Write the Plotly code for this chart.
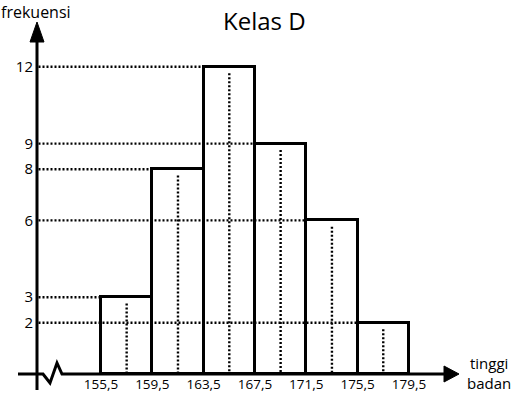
import plotly.graph_objects as go

# ---- data ----
edges = [155.5, 159.5, 163.5, 167.5, 171.5, 175.5, 179.5]
freq = [3, 8, 12, 9, 6, 2]
title_text = "Kelas D"
y_label = "frekuensi"
x_label = "tinggi<br>badan"

W, H = 517, 397
ML, MR, MT, MB = 37, 57, 20, 23
PW, PH = W - ML - MR, H - MT - MB
px_per_x = 12.83
px_per_y = 25.6
x0 = edges[0] - (101 - ML) / px_per_x
x1 = x0 + PW / px_per_x
y1 = PH / px_per_y

def fx(px):
    return (px - ML) / PW

def fy(py):
    return 1 - (py - MT) / PH

FONT = "Open Sans"
mids = [(edges[i] + edges[i + 1]) / 2 for i in range(len(freq))]
lefts = edges[:-1]

fig = go.Figure()
fig.add_trace(go.Bar(
    x=mids, y=freq, width=4,
    marker=dict(color="white", line=dict(color="black", width=3)),
    hoverinfo="skip",
))

# horizontal dotted guide lines from y axis to the left edge of each bar
xstart = x0 + 1.5 / px_per_x
for f, l in zip(freq, lefts):
    fig.add_trace(go.Scatter(x=[xstart, l], y=[f, f], mode="lines",
                             line=dict(color="black", width=2.4, dash="2px,2px"),
                             hoverinfo="skip"))
# vertical dotted midpoint lines
for f, m in zip(freq, mids):
    fig.add_trace(go.Scatter(x=[m, m], y=[f - 0.25, 0], mode="lines",
                             line=dict(color="black", width=2.4, dash="2px,2px"),
                             hoverinfo="skip"))

def fmt(v):
    return f"{v:.1f}".replace(".", ",")

shapes = []
# x axis line with zigzag
zig = [(18, 374), (43, 374), (50, 383), (57, 363), (62, 374), (448, 374)]
path = "M " + " L ".join(f"{fx(a)},{fy(b)}" for a, b in zig)
shapes.append(dict(type="path", xref="paper", yref="paper", path=path,
                   line=dict(color="black", width=3)))
# x arrow head
ah = [(444, 366), (459, 374), (444, 382)]
shapes.append(dict(type="path", xref="paper", yref="paper",
                   path="M " + " L ".join(f"{fx(a)},{fy(b)}" for a, b in ah) + " Z",
                   fillcolor="black", line=dict(color="black", width=1)))
# y axis line
shapes.append(dict(type="line", xref="paper", yref="paper",
                   x0=fx(37), x1=fx(37), y0=fy(390), y1=fy(40),
                   line=dict(color="black", width=3)))
ah = [(30, 42), (37, 22), (44, 42)]
shapes.append(dict(type="path", xref="paper", yref="paper",
                   path="M " + " L ".join(f"{fx(a)},{fy(b)}" for a, b in ah) + " Z",
                   fillcolor="black", line=dict(color="black", width=1)))

annotations = [
    dict(text=title_text, x=fx(264), y=fy(20), xref="paper", yref="paper",
         showarrow=False, font=dict(size=24, family=FONT, color="black"),
         xanchor="center", yanchor="middle"),
    dict(text=y_label, x=fx(36), y=fy(12), xref="paper", yref="paper",
         showarrow=False, font=dict(size=16, family=FONT, color="black"),
         xanchor="center", yanchor="middle"),
    dict(text=x_label, x=fx(489), y=fy(373), xref="paper", yref="paper",
         showarrow=False, font=dict(size=15, family=FONT, color="black"),
         xanchor="center", yanchor="middle"),
]

fig.update_layout(
    width=W, height=H, autosize=False,
    margin=dict(l=ML, r=MR, t=MT, b=MB, pad=0),
    paper_bgcolor="white", plot_bgcolor="white",
    showlegend=False,
    shapes=shapes, annotations=annotations,
    xaxis=dict(range=[x0, x1], tickvals=edges, ticktext=[fmt(e) for e in edges],
               showgrid=False, zeroline=False, showline=False, ticks="",
               automargin=False,
               tickfont=dict(size=13.5, family=FONT, color="black"), fixedrange=True),
    yaxis=dict(range=[0, y1], tickvals=sorted(set(freq)),
               ticktext=[str(v) for v in sorted(set(freq))],
               showgrid=False, zeroline=False, showline=False, ticks="",
               automargin=False, ticklabelstandoff=3,
               tickfont=dict(size=15, family=FONT, color="black"), fixedrange=True),
    bargap=0,
)
fig.update_traces(cliponaxis=False, selector=dict(type="scatter"))
fig.write_html("out.html", config={"displayModeBar": False, "responsive": False},
               post_script="document.body.style.margin='0';document.body.style.overflow='hidden';")
